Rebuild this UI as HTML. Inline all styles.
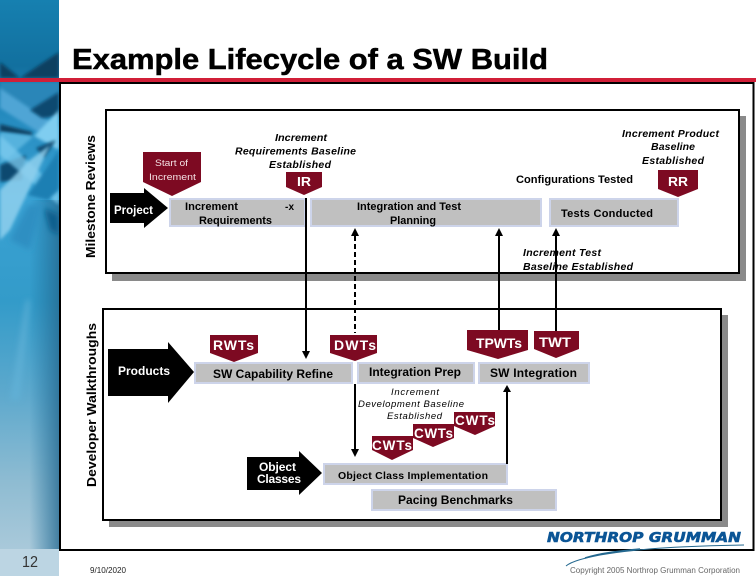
<!DOCTYPE html>
<html>
<head>
<meta charset="utf-8">
<style>
html,body{margin:0;padding:0;background:#fff;}
svg{display:block;}
text{font-family:"Liberation Sans",sans-serif;}
.b{font-weight:bold;fill:#000;}
.w{font-weight:bold;fill:#fff;}
.i{font-weight:bold;font-style:italic;fill:#000;font-size:10.5px;}
.g{fill:#c0c0c0;stroke:#cdd4ea;stroke-width:2;}
.m{fill:#7d0a22;}
.l{stroke:#000;stroke-width:2;fill:none;}
</style>
</head>
<body>
<svg width="756" height="576" viewBox="0 0 756 576" xmlns="http://www.w3.org/2000/svg">
<defs>
<linearGradient id="side" x1="0" y1="0" x2="0" y2="1">
<stop offset="0" stop-color="#1680b0"/>
<stop offset="0.12" stop-color="#12709f"/>
<stop offset="0.2" stop-color="#2389bd"/>
<stop offset="0.36" stop-color="#3aa2d4"/>
<stop offset="0.55" stop-color="#339bc9"/>
<stop offset="0.72" stop-color="#5ea9cd"/>
<stop offset="0.88" stop-color="#8fbcd2"/>
<stop offset="1" stop-color="#a9c9da"/>
</linearGradient>
<linearGradient id="edge" x1="0" y1="0" x2="1" y2="0">
<stop offset="0.5" stop-color="#1a6f9c" stop-opacity="0"/>
<stop offset="1" stop-color="#24678e" stop-opacity="0.75"/>
</linearGradient>
<filter id="bl" x="-30%" y="-30%" width="160%" height="160%"><feGaussianBlur stdDeviation="1.6"/></filter>
<filter id="bl2" x="-30%" y="-30%" width="160%" height="160%"><feGaussianBlur stdDeviation="3"/></filter>
<clipPath id="sc"><rect x="0" y="0" width="59" height="549"/></clipPath>
</defs>

<!-- sidebar -->
<rect x="0" y="0" width="59" height="549" fill="url(#side)"/>
<g clip-path="url(#sc)">
<rect x="0" y="200" width="59" height="349" fill="url(#edge)"/>
<polygon points="0,62 20,78 59,52 59,78 0,78" fill="#0b3f60" filter="url(#bl)"/>
<polygon points="0,82 59,82 59,100 30,110 0,90" fill="#2a86b8" filter="url(#bl)"/>
<polygon points="0,88 59,128 59,145 0,108" fill="#4fa5d5" filter="url(#bl)"/>
<polygon points="30,110 59,92 59,116 42,118" fill="#0e4a70" filter="url(#bl)"/>
<polygon points="0,124 32,132 32,136 0,132" fill="#0c3f60" filter="url(#bl)"/>
<polygon points="0,132 34,136 0,165" fill="#57b2dd" filter="url(#bl)"/>
<polygon points="59,110 34,136 59,150" fill="#7fcdf0" filter="url(#bl)"/>
<polygon points="36,148 56,140 44,158" fill="#0c4a70" filter="url(#bl)"/>
<polygon points="0,165 26,155 22,180 0,182" fill="#0b4a70" filter="url(#bl)"/>
<polygon points="0,135 59,190 59,205 0,155" fill="#7ccbef" filter="url(#bl)" opacity="0.75"/>
<polygon points="50,145 10,230 0,240 0,190 30,160" fill="#8fd0ee" filter="url(#bl)" opacity="0.85"/>
<polygon points="28,195 59,150 59,190 48,200" fill="#1a7fb3" filter="url(#bl)"/>
<polygon points="44,208 59,215 59,235 50,230" fill="#0f5f8d" filter="url(#bl2)"/>
<polygon points="10,240 28,205 42,205 30,250" fill="#2d8fc2" filter="url(#bl2)"/>
<polygon points="10,400 26,300 30,300 20,400" fill="#62b2d8" filter="url(#bl2)" opacity="0.7"/>
</g>
<rect x="0" y="549" width="59" height="27" fill="#bcd5e3"/>

<!-- red rule -->
<rect x="0" y="78" width="756" height="4" fill="#d11f38"/>

<!-- outer frame -->
<rect x="60" y="83" width="693.5" height="467" fill="#fff" stroke="#000" stroke-width="2"/>

<!-- title -->
<text x="72" y="69" font-size="29" font-weight="bold" fill="#000" stroke="#000" stroke-width="0.5" textLength="476" lengthAdjust="spacingAndGlyphs">Example Lifecycle of a SW Build</text>

<!-- panels -->
<rect x="112" y="116" width="634" height="165" fill="#8a8a8a"/>
<rect x="106" y="110" width="633" height="163" fill="#fff" stroke="#000" stroke-width="2"/>
<rect x="109" y="315" width="619" height="212" fill="#8a8a8a"/>
<rect x="103" y="309" width="618" height="211" fill="#fff" stroke="#000" stroke-width="2"/>

<!-- gray boxes -->
<rect class="g" x="170" y="199" width="135" height="27"/>
<rect class="g" x="311" y="199" width="230" height="27"/>
<rect class="g" x="550" y="199" width="128" height="27"/>
<rect class="g" x="195" y="363" width="157" height="20"/>
<rect class="g" x="358" y="363" width="116" height="20"/>
<rect class="g" x="479" y="363" width="110" height="20"/>
<rect class="g" x="324" y="464" width="183" height="20"/>
<rect class="g" x="372" y="490" width="184" height="20"/>

<!-- connectors -->
<line class="l" x1="306" y1="198" x2="306" y2="353"/>
<polygon points="302,351 310,351 306,359"/>
<line class="l" x1="355" y1="236" x2="355" y2="333" stroke-dasharray="5 3"/>
<polygon points="351,236 359,236 355,228"/>
<line class="l" x1="355" y1="384" x2="355" y2="451"/>
<polygon points="351,449 359,449 355,457"/>
<line class="l" x1="499" y1="234" x2="499" y2="332"/>
<polygon points="495,236 503,236 499,228"/>
<line class="l" x1="556" y1="234" x2="556" y2="332"/>
<polygon points="552,236 560,236 556,228"/>
<line class="l" x1="507" y1="390" x2="507" y2="464"/>
<polygon points="503,392 511,392 507,385"/>

<!-- black arrows -->
<polygon points="110,193 144,193 144,188 168,208 144,228 144,223 110,223"/>
<polygon points="108,349 168,349 168,342 194,372 168,403 168,396 108,396"/>
<polygon points="247,457 299,457 299,451 322,473 299,495 299,490 247,490"/>

<!-- milestones -->
<polygon class="m" points="143,152 201,152 201,182 172,196 143,182"/>
<polygon class="m" points="286,172 322,172 322,187 304,195 286,187"/>
<polygon class="m" points="658,170 698,170 698,189 678,197 658,189"/>
<polygon class="m" points="210,335 258,335 258,353 234,362 210,353"/>
<polygon class="m" points="330,335 377,335 377,353 355,361 330,353"/>
<polygon class="m" points="467,330 528,330 528,350 498,359 467,350"/>
<polygon class="m" points="534,331 579,331 579,349 556,358 534,349"/>
<polygon class="m" points="454,412 495,412 495,426 475,435 454,426"/>
<polygon class="m" points="413,424 454,424 454,438 433,447 413,438"/>
<polygon class="m" points="372,436 413,436 413,450 392,460 372,450"/>

<!-- vertical labels -->
<text transform="translate(95,258) rotate(-90)" class="b" font-size="13" textLength="123" lengthAdjust="spacingAndGlyphs">Milestone Reviews</text>
<text transform="translate(96,487) rotate(-90)" class="b" font-size="13" textLength="164" lengthAdjust="spacingAndGlyphs">Developer Walkthroughs</text>

<!-- top panel text -->
<text x="155" y="166" font-size="9.5" fill="#f3dfe2" textLength="33" lengthAdjust="spacingAndGlyphs">Start of</text>
<text x="149" y="180" font-size="9.5" fill="#f3dfe2" textLength="47" lengthAdjust="spacingAndGlyphs">Increment</text>
<text x="275" y="141" class="i" textLength="52" lengthAdjust="spacingAndGlyphs">Increment</text>
<text x="235" y="154.500" class="i" textLength="121" lengthAdjust="spacing">Requirements Baseline</text>
<text x="269" y="168" class="i" textLength="62" lengthAdjust="spacing">Established</text>
<text x="297" y="186" class="w" font-size="13" textLength="14" lengthAdjust="spacingAndGlyphs">IR</text>
<text x="114" y="214" class="w" font-size="12" textLength="39" lengthAdjust="spacingAndGlyphs">Project</text>
<text x="185" y="210" class="b" font-size="11" textLength="53" lengthAdjust="spacingAndGlyphs">Increment</text>
<text x="285" y="210" class="b" font-size="10" textLength="9" lengthAdjust="spacing">-x</text>
<text x="199" y="224" class="b" font-size="11" textLength="73" lengthAdjust="spacingAndGlyphs">Requirements</text>
<text x="357" y="210" class="b" font-size="11" textLength="104" lengthAdjust="spacingAndGlyphs">Integration and Test</text>
<text x="390" y="224" class="b" font-size="11" textLength="46" lengthAdjust="spacingAndGlyphs">Planning</text>
<text x="516" y="183" class="b" font-size="11" textLength="117" lengthAdjust="spacingAndGlyphs">Configurations Tested</text>
<text x="561" y="217" class="b" font-size="11" textLength="92" lengthAdjust="spacing">Tests  Conducted</text>
<text x="622" y="137" class="i" textLength="97" lengthAdjust="spacing">Increment Product</text>
<text x="651" y="150" class="i" textLength="44" lengthAdjust="spacing">Baseline</text>
<text x="642" y="164" class="i" textLength="62" lengthAdjust="spacing">Established</text>
<text x="668" y="186" class="w" font-size="13" textLength="20" lengthAdjust="spacingAndGlyphs">RR</text>
<text x="523" y="256" class="i" textLength="78" lengthAdjust="spacing">Increment Test</text>
<text x="523" y="270" class="i" textLength="110" lengthAdjust="spacing">Baseline Established</text>

<!-- lower panel text -->
<text x="213" y="350" class="w" font-size="14" textLength="41" lengthAdjust="spacing">RWTs</text>
<text x="334" y="350" class="w" font-size="14" textLength="42" lengthAdjust="spacing">DWTs</text>
<text x="476" y="348" class="w" font-size="14" textLength="46" lengthAdjust="spacing">TPWTs</text>
<text x="539" y="347" class="w" font-size="14" textLength="32" lengthAdjust="spacingAndGlyphs">TWT</text>
<text x="118" y="375" class="w" font-size="12" textLength="52" lengthAdjust="spacingAndGlyphs">Products</text>
<text x="213" y="378" class="b" font-size="12" textLength="120" lengthAdjust="spacing">SW Capability Refine</text>
<text x="369" y="376" class="b" font-size="12" textLength="92" lengthAdjust="spacingAndGlyphs">Integration Prep</text>
<text x="490" y="377" class="b" font-size="12" textLength="87" lengthAdjust="spacing">SW  Integration</text>
<text x="391" y="395" font-size="9.5" font-style="italic" fill="#000" textLength="48" lengthAdjust="spacing">Increment</text>
<text x="358" y="407" font-size="9.5" font-style="italic" fill="#000" textLength="106" lengthAdjust="spacing">Development Baseline</text>
<text x="387" y="419" font-size="9.5" font-style="italic" fill="#000" textLength="55" lengthAdjust="spacing">Established</text>
<text x="455" y="425" class="w" font-size="13.500" textLength="40" lengthAdjust="spacing">CWTs</text>
<text x="414" y="438" class="w" font-size="13.500" textLength="39" lengthAdjust="spacing">CWTs</text>
<text x="372" y="450" class="w" font-size="13.500" textLength="40" lengthAdjust="spacing">CWTs</text>
<text x="259" y="471" class="w" font-size="12" textLength="37" lengthAdjust="spacing">Object</text>
<text x="257" y="483" class="w" font-size="12" textLength="44" lengthAdjust="spacing">Classes</text>
<text x="338" y="479" class="b" font-size="10.500" textLength="150" lengthAdjust="spacing">Object Class Implementation</text>
<text x="398" y="504" class="b" font-size="12" textLength="115" lengthAdjust="spacingAndGlyphs">Pacing Benchmarks</text>

<!-- logo -->
<text x="547" y="542" font-size="13.500" font-weight="bold" font-style="italic" fill="#0b5596" stroke="#0b5596" stroke-width="0.6" style="font-family:'DejaVu Sans',sans-serif" textLength="194" lengthAdjust="spacingAndGlyphs">NORTHROP  GRUMMAN</text>
<path d="M744,545 C690,546 640,548 600,555 C585,558 572,561 566,566" stroke="#24688f" stroke-width="1" fill="none"/>
<path d="M640,549 C620,551 600,553 585,558" stroke="#24688f" stroke-width="1.500" fill="none"/>

<!-- footer -->
<text x="22" y="567" font-size="16" fill="#333" textLength="16" lengthAdjust="spacingAndGlyphs">12</text>
<text x="90" y="573" font-size="8" fill="#222" textLength="36" lengthAdjust="spacingAndGlyphs">9/10/2020</text>
<text x="570" y="573" font-size="8" fill="#666" textLength="170" lengthAdjust="spacing">Copyright 2005 Northrop Grumman Corporation</text>
</svg>
</body>
</html>
